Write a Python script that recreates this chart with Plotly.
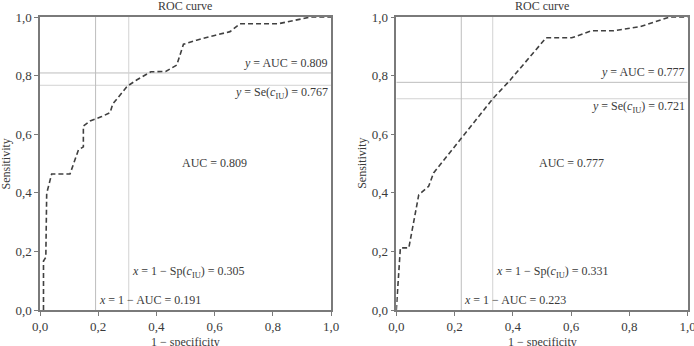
import plotly.graph_objects as go

# ---------------- data ----------------
left_fpr = [0.012, 0.012, 0.020, 0.023, 0.040, 0.103, 0.132, 0.149, 0.149, 0.172, 0.212,
            0.241, 0.250, 0.300, 0.332, 0.381, 0.432, 0.470, 0.493, 0.538, 0.600, 0.653,
            0.687, 0.819, 0.930, 1.0]
left_tpr = [0.0, 0.167, 0.180, 0.398, 0.464, 0.464, 0.546, 0.557, 0.628, 0.645, 0.660,
            0.674, 0.703, 0.764, 0.785, 0.813, 0.814, 0.836, 0.907, 0.921, 0.937, 0.950,
            0.977, 0.977, 1.0, 1.0]
right_fpr = [0.0, 0.003, 0.014, 0.043, 0.077, 0.111, 0.128, 0.223, 0.331, 0.391, 0.514,
             0.602, 0.670, 0.745, 0.836, 0.939, 1.0]
right_tpr = [0.0, 0.047, 0.212, 0.212, 0.393, 0.422, 0.468, 0.586, 0.721, 0.785, 0.929,
             0.929, 0.953, 0.953, 0.967, 1.0, 1.0]

left_auc, left_se, left_1msp = 0.809, 0.767, 0.305
right_auc, right_se, right_1msp = 0.777, 0.721, 0.331

tick_vals = [0.0, 0.2, 0.4, 0.6, 0.8, 1.0]
title_text = "ROC curve"
xlabel = "1 − specificity"
ylabel = "Sensitivity"

# ---------------- figure ----------------
FONT = "Liberation Serif"
TXT = "#3a3a3a"
fig = go.Figure()

panels = [
    ("x", "y", left_fpr, left_tpr, left_auc, left_se, left_1msp),
    ("x2", "y2", right_fpr, right_tpr, right_auc, right_se, right_1msp),
]

for xa, ya, fpr, tpr, auc, se, omsp in panels:
    # reference lines
    for yv, col in [(auc, "#bdbdbd"), (se, "#d2d2d2")]:
        fig.add_trace(go.Scatter(x=[0, 1], y=[yv, yv], mode="lines", xaxis=xa, yaxis=ya,
                                 line=dict(color=col, width=1), hoverinfo="skip",
                                 showlegend=False))
    for xv, col in [(1 - auc, "#bdbdbd"), (omsp, "#d2d2d2")]:
        fig.add_trace(go.Scatter(x=[xv, xv], y=[0, 1], mode="lines", xaxis=xa, yaxis=ya,
                                 line=dict(color=col, width=1), hoverinfo="skip",
                                 showlegend=False))
    # ROC curve
    fig.add_trace(go.Scatter(x=fpr, y=tpr, mode="lines", xaxis=xa, yaxis=ya,
                             line=dict(color="#404040", width=1.6, dash="5px,3px"),
                             showlegend=False))
    af = dict(family=FONT, size=12, color=TXT)
    fig.add_annotation(x=1, y=auc, xref=xa, yref=ya, xanchor="right", yanchor="middle",
                       yshift=10, xshift=-1, showarrow=False, font=af,
                       text=f"<i>y</i> = AUC = {auc:.3f}")
    fig.add_annotation(x=1, y=se, xref=xa, yref=ya, xanchor="right", yanchor="middle",
                       yshift=-8, xshift=-1, showarrow=False, font=af,
                       text=f"<i>y</i> = Se(<i>c</i><sub>IU</sub>) = {se:.3f}")
    fig.add_annotation(x=0.6, y=0.502, xref=xa, yref=ya, xanchor="center", yanchor="middle",
                       showarrow=False, font=af, text=f"AUC = {auc:.3f}")
    fig.add_annotation(x=omsp, y=0.13, xref=xa, yref=ya, xanchor="left", yanchor="middle",
                       xshift=1, showarrow=False, font=af,
                       text=f"<i>x</i> = 1 − Sp(<i>c</i><sub>IU</sub>) = {omsp:.3f}")
    fig.add_annotation(x=1 - auc, y=0.034, xref=xa, yref=ya, xanchor="left", yanchor="middle",
                       xshift=1, showarrow=False, font=af,
                       text=f"<i>x</i> = 1 − AUC = {1 - auc:.3f}")

W, H = 694, 346
ydom = [1 - 310 / H, 1 - 17 / H]
xdoms = [[40 / W, 331 / W], [396.3 / W, 687.7 / W]]

axis_common = dict(range=[0, 1], tickvals=tick_vals, tickformat=".1f", showgrid=False,
                   zeroline=False, showline=True, linecolor="#7a7a7a", linewidth=1.5,
                   mirror=True, ticks="outside", ticklen=4, tickwidth=1.2, tickcolor="#7a7a7a",
                   automargin=False, ticklabeloverflow="allow",
                   tickfont=dict(family=FONT, size=13, color=TXT), fixedrange=True)

fig.update_layout(
    width=W, height=H, autosize=False,
    margin=dict(l=0, r=0, t=0, b=0, pad=0, autoexpand=False),
    paper_bgcolor="white", plot_bgcolor="white",
    separators=", ",
    xaxis=dict(domain=xdoms[0], anchor="y", **axis_common),
    yaxis=dict(domain=ydom, anchor="x", **axis_common),
    xaxis2=dict(domain=xdoms[1], anchor="y2", **axis_common),
    yaxis2=dict(domain=ydom, anchor="x2", **axis_common),
)

# titles and axis labels
for dom in xdoms:
    cx = (dom[0] + dom[1]) / 2
    fig.add_annotation(x=cx, y=1 - 6 / H, xref="paper", yref="paper", xanchor="center",
                       yanchor="middle", showarrow=False, text=title_text,
                       font=dict(family=FONT, size=12, color=TXT))
    fig.add_annotation(x=cx, y=1 - 341.5 / H, xref="paper", yref="paper", xanchor="center",
                       yanchor="middle", showarrow=False, text=xlabel,
                       font=dict(family=FONT, size=12, color=TXT))
    fig.add_annotation(x=dom[0] - 35 / W, y=(ydom[0] + ydom[1]) / 2, xref="paper",
                       yref="paper", xanchor="center", yanchor="middle", showarrow=False,
                       text=ylabel, textangle=-90,
                       font=dict(family=FONT, size=12, color=TXT))

fig.write_html("out.html")
